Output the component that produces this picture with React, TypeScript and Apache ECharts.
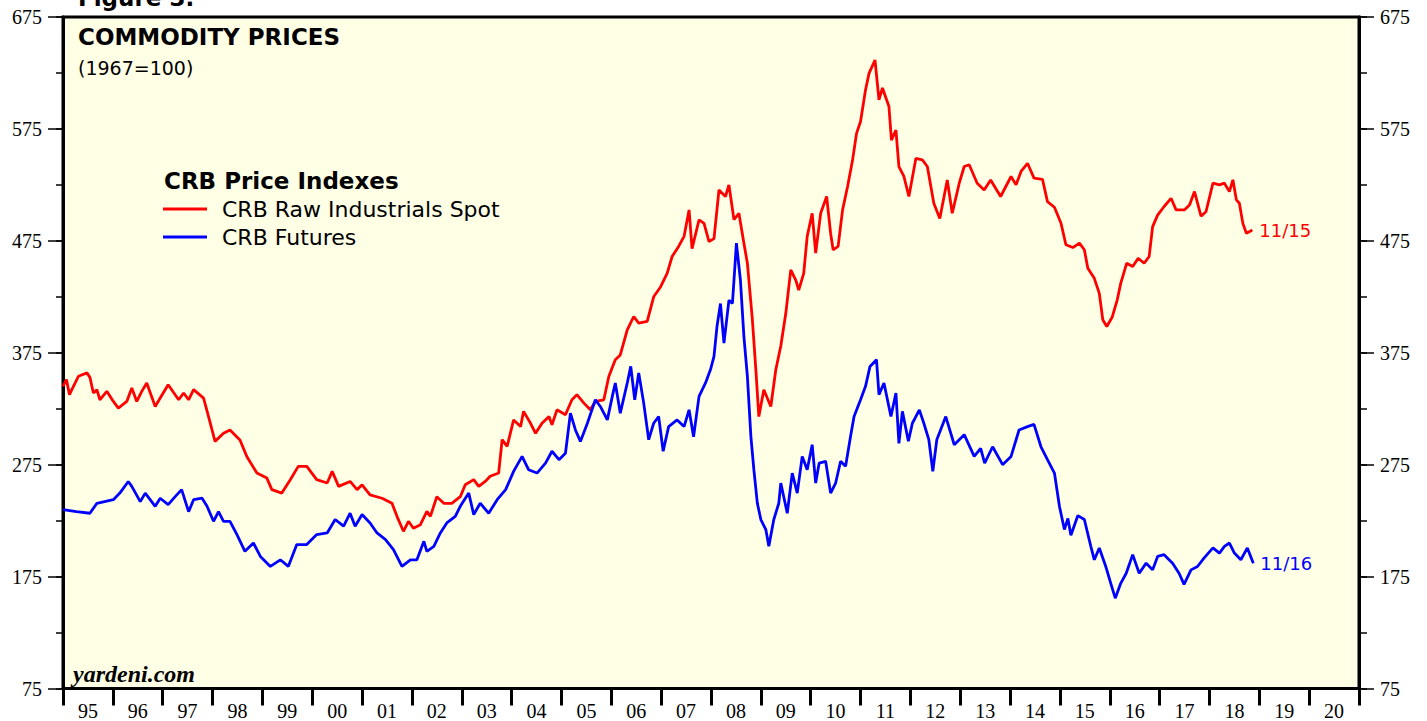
import React, { useEffect, useRef } from "react";
import * as echarts from "echarts";

const yearLabels = ["95","96","97","98","99","00","01","02","03","04","05","06","07","08","09","10","11","12","13","14","15","16","17","18","19","20"];
const yTickLabels = ["75","125","175","225","275","325","375","425","475","525","575","625","675"];

const redDates = [
  1995.00,1995.07,1995.13,1995.20,1995.31,1995.48,1995.54,1995.61,1995.68,1995.74,1995.88,
  1996.01,1996.11,1996.28,1996.38,1996.48,1996.58,1996.68,1996.85,1996.95,
  1997.11,1997.32,1997.42,1997.52,1997.62,1997.82,1997.92,1997.99,
  1998.05,1998.22,1998.35,1998.55,1998.69,1998.89,
  1999.09,1999.19,1999.39,1999.56,1999.72,1999.89,
  2000.09,2000.30,2000.40,2000.53,2000.76,2000.90,
  2001.00,2001.16,2001.40,2001.60,2001.70,2001.83,2001.93,
  2002.03,2002.17,2002.30,2002.37,2002.50,2002.64,2002.80,2002.97,
  2003.07,2003.24,2003.34,2003.47,2003.57,2003.74,2003.81,2003.91,
  2004.04,2004.18,2004.24,2004.38,2004.48,2004.61,2004.75,2004.81,2004.91,
  2005.08,2005.21,2005.31,2005.45,2005.58,2005.68,2005.85,2005.95,
  2006.08,2006.18,2006.32,2006.45,2006.55,2006.72,2006.85,2006.99,
  2007.12,2007.22,2007.35,2007.46,2007.56,2007.62,2007.76,2007.86,2007.96,
  2008.06,2008.16,2008.29,2008.36,2008.46,2008.56,2008.66,2008.73,2008.83,2008.90,2008.96,
  2009.06,2009.20,2009.30,2009.40,2009.50,2009.60,2009.70,2009.76,2009.86,2009.93,
  2010.03,2010.10,2010.20,2010.32,2010.40,2010.45,2010.55,2010.64,2010.74,2010.84,2010.92,
  2011.00,2011.10,2011.17,2011.29,2011.37,2011.44,2011.57,2011.62,2011.71,2011.77,2011.87,2011.97,
  2012.11,2012.24,2012.34,2012.47,2012.59,2012.74,2012.84,2012.98,
  2013.08,2013.18,2013.34,2013.48,2013.61,2013.81,
  2014.02,2014.12,2014.22,2014.35,2014.48,2014.65,2014.75,2014.89,
  2015.02,2015.12,2015.26,2015.39,2015.49,2015.56,2015.69,2015.79,2015.86,2015.94,
  2016.05,2016.15,2016.22,2016.34,2016.46,2016.57,2016.69,2016.79,2016.86,2016.96,
  2017.09,2017.23,2017.33,2017.50,2017.60,2017.70,2017.83,2017.93,
  2018.07,2018.20,2018.30,2018.40,2018.47,2018.54,2018.60,2018.67,2018.74,2018.80,2018.86
];
const redValues = [
  345,351,337.5,344,354,357,353,339,342,333,340.5,
  331.5,325.6,331.5,343.5,331.5,340.5,348,327,334.5,
  346.4,333,339,333,342,334.5,318,306,
  295.8,303,306,297,282,267.5,
  263,252.7,249.6,261.6,273.5,273.5,
  261.6,258.6,269,255.6,260,252.7,
  257,248,245,240.5,228.8,215.5,224.4,
  218.2,221.4,233.3,228.8,246.4,240.5,240.5,246.4,
  257,261.6,255.6,260,264.6,267.5,297.3,291.3,
  315,309,322.6,312,303,312,318,310.7,324,
  319.6,333,337.5,330,324,331.5,333,353.8,
  368.8,373,395.5,407.4,401.4,403,425,434,
  446,461,470,479,502.6,468,493.7,490.6,474.4,
  477,520.5,514.6,525,494,499.6,472.8,455,404.5,359.8,318,
  342,327,359.8,381,410,449,440,431,446,479,
  499.6,464,499.6,514.6,481.6,467,470,502.7,523.5,547.3,571,
  581.6,609.8,624.6,636.6,601,611.6,595,565,574,541.4,532.5,514.6,
  548.6,547.3,541.4,508.6,495,529.4,499.6,526.5,
  541.4,543,526.5,520.5,529.4,514.6,
  532.5,525,537,544.3,531,530,510,505,
  491,471.5,469,473,467,450.5,441.5,428,404.5,398.4,
  407,422.3,437,455,452,459.4,455,461,487.7,498,
  505.7,513,502.7,502.7,507,519,497,501,
  526.5,525,526.5,519,529.5,511.6,508.6,490.6,481.7,483.2,484.6
];

const blueDates = [
  1995.00,1995.27,1995.54,1995.68,
  1996.01,1996.14,1996.31,1996.38,1996.55,1996.65,1996.85,1996.95,
  1997.11,1997.25,1997.38,1997.52,1997.62,1997.79,1997.89,
  1998.02,1998.12,1998.22,1998.35,1998.49,1998.65,1998.82,1998.96,
  1999.16,1999.36,1999.52,1999.69,1999.89,
  2000.09,2000.30,2000.46,2000.63,2000.76,2000.86,
  2001.00,2001.16,2001.30,2001.47,2001.63,2001.80,2001.97,
  2002.10,2002.24,2002.30,2002.44,2002.57,2002.70,2002.87,2002.97,
  2003.14,2003.24,2003.37,2003.54,2003.71,2003.88,
  2004.04,2004.21,2004.34,2004.51,2004.68,2004.81,2004.95,
  2005.08,2005.18,2005.28,2005.38,2005.52,2005.68,2005.78,2005.92,
  2006.02,2006.08,2006.18,2006.32,2006.39,2006.47,2006.55,2006.65,2006.75,2006.85,2006.95,
  2007.04,2007.15,2007.32,2007.46,2007.56,2007.65,2007.76,2007.89,2007.99,
  2008.06,2008.12,2008.19,2008.26,2008.36,2008.43,2008.51,2008.59,2008.66,2008.73,2008.80,2008.86,2008.93,
  2009.00,2009.10,2009.16,2009.26,2009.36,2009.40,2009.53,2009.63,2009.73,2009.83,2009.93,
  2010.03,2010.10,2010.17,2010.30,2010.40,2010.50,2010.60,2010.70,2010.80,2010.87,
  2011.00,2011.10,2011.19,2011.32,2011.37,2011.47,2011.61,2011.71,2011.77,2011.84,2011.96,
  2012.04,2012.18,2012.27,2012.37,2012.45,2012.53,2012.71,2012.88,
  2013.08,2013.28,2013.41,2013.49,2013.65,2013.85,
  2014.02,2014.18,2014.35,2014.48,2014.62,2014.75,2014.89,2014.99,
  2015.09,2015.16,2015.22,2015.36,2015.49,2015.62,2015.69,2015.79,2015.92,
  2016.02,2016.11,2016.22,2016.33,2016.46,2016.59,2016.73,2016.86,2016.96,
  2017.09,2017.26,2017.39,2017.49,2017.63,2017.76,2017.89,
  2018.07,2018.20,2018.30,2018.40,2018.50,2018.63,2018.76,2018.88
];
const blueValues = [
  234.8,233,231.6,240.5,
  243.7,249.6,260,255.6,242,249.6,237.8,245,
  239.3,246.4,252.7,233,243.7,245,237.8,
  224.4,233,224.4,224.4,212.5,197.6,205,193,
  184.1,190,184.1,203.6,203.6,
  212.5,214,226,220,231.6,220,
  230.4,222.9,214,208,199,184.1,190,
  190,206.5,197.6,202,214,222.9,228.8,237.8,
  249.6,230.4,240.5,231.6,243.7,252.7,
  269,282.4,270.5,267.5,276.4,287,279.5,
  285.2,321,306,295.8,312,333,327,315,
  336,348,321,348,362.8,333,357,330,297.3,312,318,
  287,309,315,309,324,300,336,348,360,
  371.8,398.4,419,383.6,422,419,472.9,440,389.6,353.8,300.3,270.5,240.5,
  226,217,202,226,240.5,258.6,231.6,267.5,249.6,282.4,270.5,
  292.8,258.6,276.4,278,249.6,258.6,278,273.5,300.3,318,
  333,345,362.8,368.8,337.5,348,318,339,294,322.6,296,
  312,324,312,297.3,269,297.3,318,292.8,
  301.8,282.4,289.6,276.4,291,275,
  282.4,306,309,311,291,279.5,267.5,237.8,
  217,227,212,229.5,226,202,190,200.6,184,
  169,155.7,169,178,194.6,178,187,181,193,
  194.6,187,178,168,181,184,191.5,
  200.6,196,202,205,196,190,200.6,187
];

const SANS = "DejaVu Sans";
const SERIF = "Liberation Serif";

export default function App() {
  const ref = useRef<HTMLDivElement>(null);
  useEffect(() => {
    const chart = echarts.init(ref.current as HTMLDivElement, null, { renderer: "svg" });
    const pairs = (d: number[], v: number[]) => d.map((x, i) => [x, v[i]]);

    const majorY = (position: string, margin: number) => ({
      type: "category",
      data: yTickLabels,
      position,
      boundaryGap: false,
      axisLine: { show: true, lineStyle: { color: "#000", width: 3 } },
      axisTick: { show: true, interval: 1, length: 15, lineStyle: { color: "#000", width: 1.5 } },
      axisLabel: { show: true, interval: 1, margin, fontFamily: SERIF, fontSize: 20, color: "#000" },
      splitLine: { show: false },
    });
    const minorY = (position: string, len: number) => ({
      type: "category",
      data: yTickLabels,
      position,
      boundaryGap: false,
      axisLine: { show: false },
      axisTick: { show: true, interval: 0, length: len, lineStyle: { color: "#000", width: 1.5 } },
      axisLabel: { show: false },
      splitLine: { show: false },
    });

    chart.setOption({
      animation: false,
      backgroundColor: "#ffffff",
      grid: {
        left: 63,
        right: 68,
        top: 17,
        bottom: 32.5,
        show: true,
        backgroundColor: "#FFFFE6",
        borderColor: "#000",
        borderWidth: 3,
      },
      legend: {
        data: [
          { name: "CRB Raw Industrials Spot", icon: "rect" },
          { name: "CRB Futures", icon: "rect" },
        ],
        orient: "vertical",
        left: 163,
        top: 198,
        padding: 0,
        itemWidth: 44,
        itemHeight: 3,
        itemGap: 6,
        selectedMode: false,
        textStyle: { fontFamily: SANS, fontSize: 22, color: "#000", lineHeight: 22, padding: [0, 0, 0, 10] },
      },
      xAxis: [
        {
          type: "category",
          data: yearLabels,
          position: "bottom",
          boundaryGap: true,
          axisLine: { show: true, lineStyle: { color: "#000", width: 3 } },
          axisTick: { show: true, interval: 0, length: 17, lineStyle: { color: "#000", width: 3 } },
          axisLabel: { show: true, interval: 0, margin: 12, fontFamily: SERIF, fontSize: 20, color: "#000" },
          splitLine: { show: false },
        },
        { type: "value", min: 1995, max: 2021, show: false },
      ],
      yAxis: [
        { type: "value", min: 75, max: 675, show: false },
        majorY("left", 21),
        minorY("left", 7),
        majorY("right", 21),
        minorY("right", 8),
      ],
      graphic: [
        { type: "text", left: 78, top: -14, style: { text: "Figure 3.", font: `bold 23px "${SANS}"`, fill: "#000" } },
        { type: "text", x: 78, y: 37, style: { text: "COMMODITY PRICES", font: `bold 23px "${SANS}"`, fill: "#000", verticalAlign: "middle" } },
        { type: "text", x: 78, y: 68, style: { text: "(1967=100)", font: `19px "${SANS}"`, fill: "#000", verticalAlign: "middle" } },
        { type: "text", x: 164, y: 181, style: { text: "CRB Price Indexes", font: `bold 23px "${SANS}"`, fill: "#000", verticalAlign: "middle" } },
        { type: "text", x: 73, y: 674, style: { text: "yardeni.com", font: `italic bold 24px "${SERIF}"`, fill: "#000", verticalAlign: "middle" } },
      ],
      series: [
        {
          type: "line",
          name: "CRB Raw Industrials Spot",
          xAxisIndex: 1,
          yAxisIndex: 0,
          data: pairs(redDates, redValues),
          symbol: "none",
          showSymbol: false,
          lineStyle: { color: "#FF0000", width: 2.8 },
          itemStyle: { color: "#FF0000" },
          endLabel: { show: true, formatter: "11/15", color: "#FF0000", fontFamily: SANS, fontSize: 18, distance: 7 },
        },
        {
          type: "line",
          name: "CRB Futures",
          xAxisIndex: 1,
          yAxisIndex: 0,
          data: pairs(blueDates, blueValues),
          symbol: "none",
          showSymbol: false,
          lineStyle: { color: "#0000FF", width: 2.8 },
          itemStyle: { color: "#0000FF" },
          endLabel: { show: true, formatter: "11/16", color: "#0000FF", fontFamily: SANS, fontSize: 18, distance: 7 },
        },
      ],
    });
    return () => chart.dispose();
  }, []);
  return (
    <div
      ref={ref}
      style={{ position: "fixed", left: 0, top: 0, width: 1427, height: 721, background: "#fff" }}
    />
  );
}
